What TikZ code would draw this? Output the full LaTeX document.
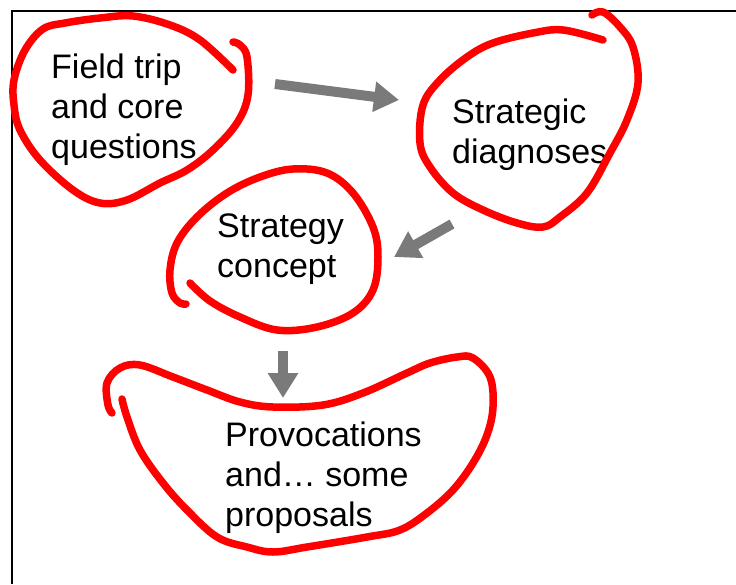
\documentclass[tikz,border=0pt]{standalone}
\usepackage{fontspec}
\setmainfont{Liberation Sans}
\usetikzlibrary{arrows.meta}
\definecolor{loopred}{RGB}{255,0,0}
\definecolor{arrowgray}{RGB}{122,122,122}

\tikzset{
  label/.style={align=left,anchor=base west,inner sep=0pt,
    font=\fontsize{34}{40}\selectfont},
  redloop/.style={draw=loopred,line width=7.5pt,line cap=round,line join=round},
  blockarrow/.style={draw=arrowgray,line width=10pt,
    -{Triangle[width=29pt,length=25pt]},fill=arrowgray}
}

\begin{document}
\begin{tikzpicture}[x=1pt,y=-1pt]
  \useasboundingbox (0,0) rectangle (736,584);
  \draw[line width=1.3pt] (736,11) -- (12,11) -- (12,584);

  % base anchor sits on the last line
  \node[label] (field) at (51,158) {Field trip\\and core\\questions};
  \node[label] (diag) at (452,163) {Strategic\\diagnoses};
  \node[label] (concept) at (217,277) {Strategy\\concept};
  \node[label] (prov) at (225,526) {Provocations\\and\ldots\ some\\proposals};

  % hand drawn rings
  \draw[redloop] plot[smooth,tension=0.6] coordinates {(233,70) (200,40) (170,25) (133,16)
    (100,18) (65,23) (43,29) (25,50) (14,80) (14,105) (20,130) (40,160) (73,190) (100,203)
    (127,200) (160,183) (187,170) (213,150) (237,123) (248,95) (247,57) (240,45) (233,42)};
  \draw[redloop] plot[smooth,tension=0.6] coordinates {(603,40) (563,30) (533,33) (493,43)
    (467,57) (440,80) (423,105) (420,143) (430,167) (453,193) (483,210) (517,223)
    (543,227) (560,217) (587,193) (610,153) (627,120) (638,83) (633,47) (620,27) (603,12) (592,15)};
  \draw[redloop] plot[smooth,tension=0.6] coordinates {(190,283) (210,301) (240,317)
    (277,330) (317,327) (353,313) (373,290) (378,257) (373,227) (353,193) (327,173)
    (293,169) (260,177) (227,193) (197,217) (177,243) (170,270) (172,293) (180,303) (186,304)};
  \draw[redloop] plot[smooth,tension=0.6] coordinates {(122,399) (127,417) (140,450)
    (163,483) (187,510) (217,537) (247,547) (273,552) (307,547) (367,537) (400,530)
    (427,513) (453,490) (473,463) (487,435) (493,407) (490,377) (473,358) (457,357)
    (430,363) (407,373) (363,393) (323,405) (273,407) (240,402) (207,390) (173,377)
    (140,365) (120,368) (107,383) (108,405) (112,413)};

  % arrows between the rings
  \coordinate (a1s) at (275,84);
  \coordinate (a1e) at (399,100);
  \coordinate (a2s) at (452,224);
  \coordinate (a2e) at (394,257);
  \coordinate (a3s) at (283,351);
  \coordinate (a3e) at (283,398);
  \draw[blockarrow] (a1s) -- (a1e);
  \draw[blockarrow] (a2s) -- (a2e);
  \draw[blockarrow] (a3s) -- (a3e);
\end{tikzpicture}
\end{document}
